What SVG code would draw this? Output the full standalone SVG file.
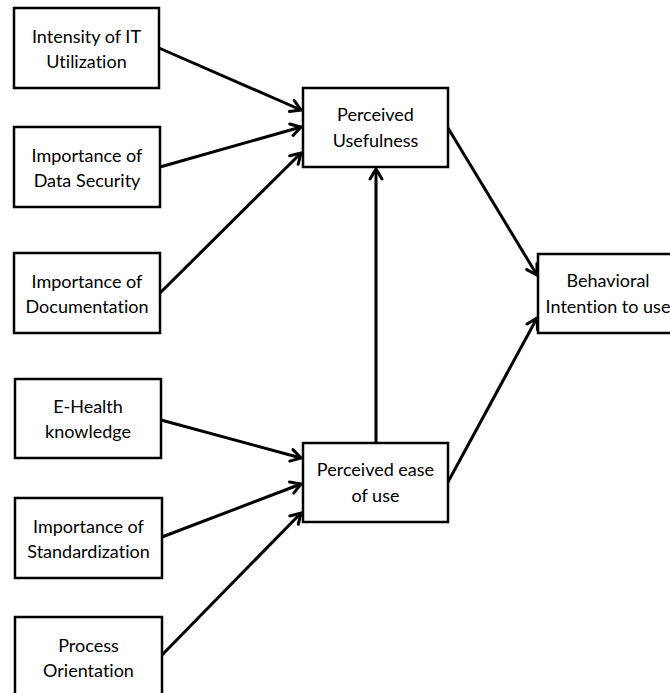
<svg xmlns="http://www.w3.org/2000/svg" width="670" height="693" viewBox="0 0 670 693">
  <style>
    .box { fill: #ffffff; stroke: #000000; stroke-width: 2.5; }
    .lbl { font-family: Lato, "Open Sans", sans-serif; font-size: 18px; fill: #000000; text-anchor: middle; font-variant-ligatures: none; font-feature-settings: "liga" 0, "clig" 0; }
    .edge { stroke: #000000; stroke-width: 3; fill: none; marker-end: url(#arrow); }
  </style>
  <defs>
    <marker id="arrow" markerUnits="userSpaceOnUse" markerWidth="16" markerHeight="16" refX="12" refY="8" orient="auto" overflow="visible">
      <path d="M2,2 L12,8 L2,14" fill="none" stroke="#000000" stroke-width="3" stroke-linecap="round" stroke-linejoin="miter"/>
    </marker>
  </defs>

  <rect width="670" height="693" fill="#ffffff"/>

  <g id="connectors">
    <line class="edge" x1="159" y1="48" x2="301" y2="110"/>
    <line class="edge" x1="160" y1="167" x2="301" y2="127"/>
    <line class="edge" x1="160" y1="293" x2="301" y2="153"/>
    <line class="edge" x1="161" y1="420" x2="301" y2="458"/>
    <line class="edge" x1="162" y1="537" x2="301" y2="484"/>
    <line class="edge" x1="162" y1="655" x2="301" y2="513"/>
    <line class="edge" x1="376" y1="443" x2="376" y2="169"/>
    <line class="edge" x1="448" y1="128" x2="537" y2="275"/>
    <line class="edge" x1="448" y1="482" x2="537" y2="318"/>
  </g>

  <g id="n-it-utilization">
    <rect class="box" x="14" y="8" width="145" height="80"/>
    <text class="lbl" x="86.5" y="43">Intensity of IT</text>
    <text class="lbl" x="86.5" y="68">Utilization</text>
  </g>
  <g id="n-data-security">
    <rect class="box" x="14" y="127" width="146" height="80"/>
    <text class="lbl" x="87" y="162">Importance of</text>
    <text class="lbl" x="87" y="187">Data Security</text>
  </g>
  <g id="n-documentation">
    <rect class="box" x="14" y="253" width="146" height="80"/>
    <text class="lbl" x="87" y="288">Importance of</text>
    <text class="lbl" x="87" y="313">Documentation</text>
  </g>
  <g id="n-ehealth">
    <rect class="box" x="15" y="379" width="146" height="79"/>
    <text class="lbl" x="88" y="413">E-Health</text>
    <text class="lbl" x="88" y="438">knowledge</text>
  </g>
  <g id="n-standardization">
    <rect class="box" x="15" y="498" width="147" height="80"/>
    <text class="lbl" x="88.5" y="533">Importance of</text>
    <text class="lbl" x="88.5" y="558">Standardization</text>
  </g>
  <g id="n-process">
    <rect class="box" x="15" y="617" width="147" height="80"/>
    <text class="lbl" x="88.5" y="652">Process</text>
    <text class="lbl" x="88.5" y="677">Orientation</text>
  </g>
  <g id="n-usefulness">
    <rect class="box" x="303" y="88" width="145" height="79"/>
    <text class="lbl" x="375.5" y="121">Perceived</text>
    <text class="lbl" x="375.5" y="147">Usefulness</text>
  </g>
  <g id="n-ease">
    <rect class="box" x="303" y="443" width="145" height="79"/>
    <text class="lbl" x="375.5" y="476">Perceived ease</text>
    <text class="lbl" x="375.5" y="502">of use</text>
  </g>
  <g id="n-intention">
    <rect class="box" x="538" y="254" width="145" height="79"/>
    <text class="lbl" x="608" y="287">Behavioral</text>
    <text class="lbl" x="608" y="313">Intention to use</text>
  </g>
</svg>
